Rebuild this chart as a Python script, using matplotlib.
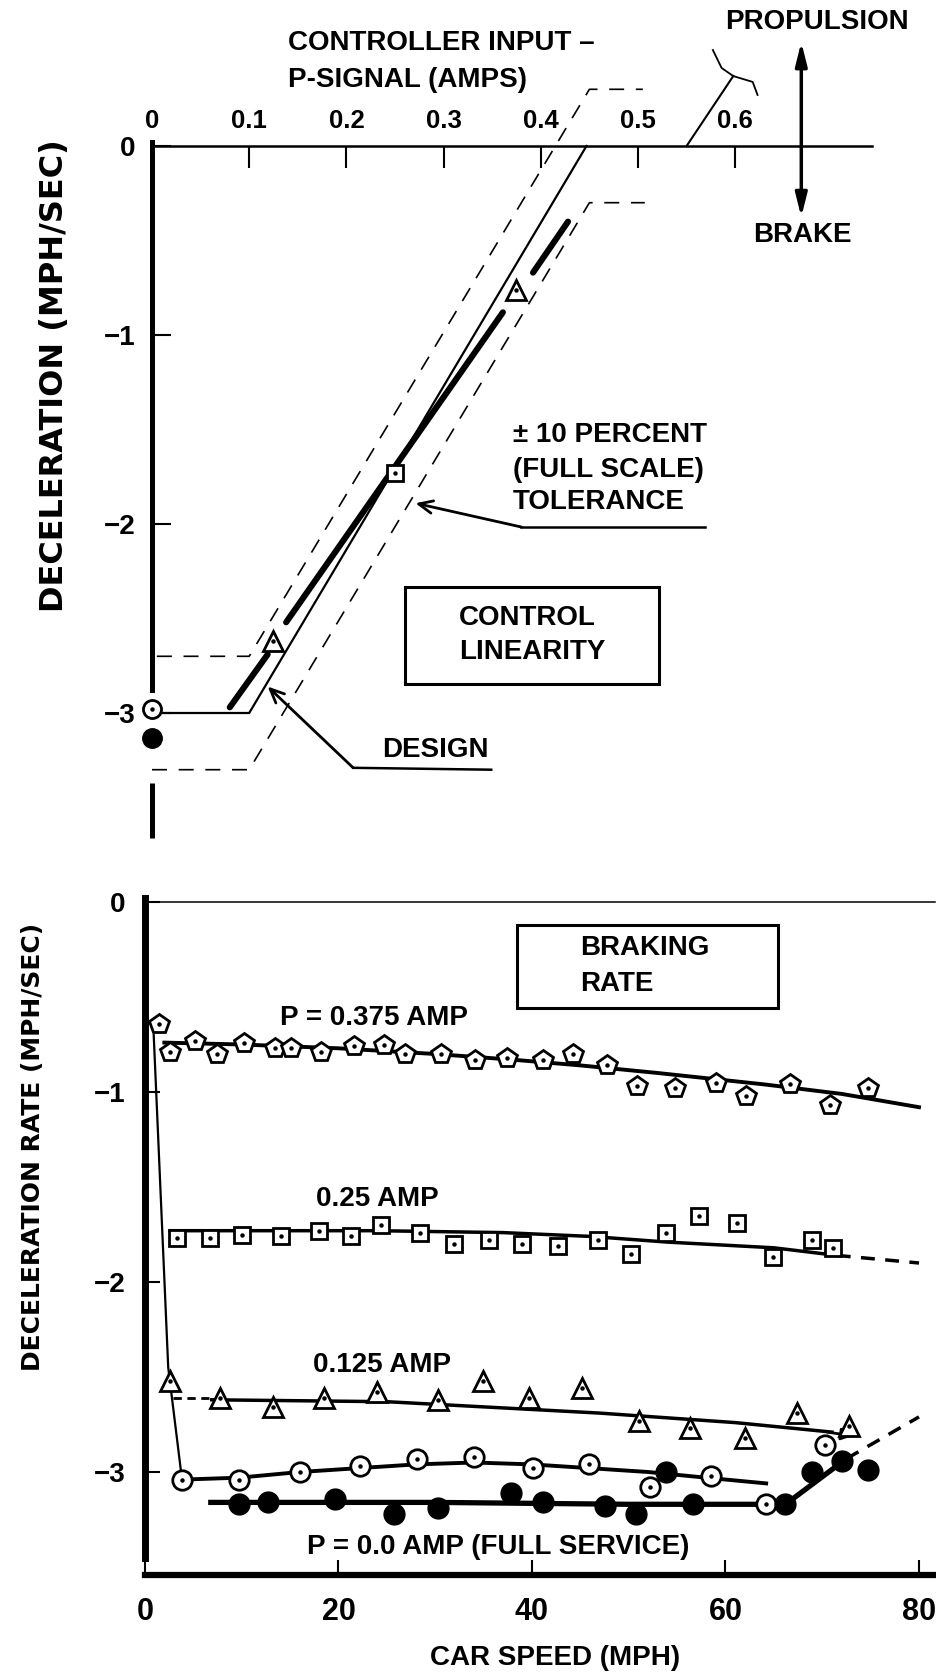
import matplotlib
matplotlib.use("Agg")
import matplotlib.pyplot as plt
from matplotlib.patches import Rectangle

plt.rcParams["font.family"] = ["Liberation Sans", "DejaVu Sans"]
plt.rcParams["font.weight"] = "bold"

W, H = 936, 1676

# ---- control linearity (top) ----
amp_ticks = [0, 0.1, 0.2, 0.3, 0.4, 0.5, 0.6]
amp_labels = ["0", "0.1", "0.2", "0.3", "0.4", "0.5", "0.6"]
dec_ticks = [0, -1, -2, -3]
dec_labels = ["0", "\u22121", "\u22122", "\u22123"]

design_x = [0.0, 0.10, 0.447]
design_y = [-3.0, -3.0, 0.0]
tol_hi_x = [0.005, 0.10, 0.45, 0.505]
tol_hi_y = [-2.7, -2.7, 0.3, 0.3]
tol_lo_x = [0.0, 0.10, 0.45, 0.507]
tol_lo_y = [-3.3, -3.3, -0.3, -0.3]

meas_x = [[0.080, 0.119], [0.138, 0.361], [0.392, 0.428]]
meas_y = [[-2.97, -2.69], [-2.52, -0.88], [-0.67, -0.40]]

lin_tri_x = [0.125, 0.375]
lin_tri_y = [-2.62, -0.76]
lin_sq_x = [0.25]
lin_sq_y = [-1.73]
lin_oc_x = [0.0]
lin_oc_y = [-2.98]
lin_fc_x = [0.0]
lin_fc_y = [-3.13]

prop_x = [0.55, 0.598]
prop_y = [0.0, 0.37]
bracket_x = [0.577, 0.586, 0.598, 0.618, 0.623]
bracket_y = [0.508, 0.413, 0.370, 0.339, 0.270]

# ---- braking rate (bottom) ----
mph_ticks = [0, 20, 40, 60, 80]
rate_ticks = [0, -1, -2, -3]

pent_mph = [1.4, 2.6, 5.2, 7.4, 10.2, 13.4, 15.1, 18.2, 21.6, 24.7, 26.9, 30.6,
            34.1, 37.4, 41.1, 44.2, 47.8, 50.9, 54.8, 59.0, 62.1, 66.7, 70.8, 74.7]
pent_dec = [-0.64, -0.79, -0.73, -0.80, -0.74, -0.77, -0.77, -0.79, -0.76, -0.75, -0.80, -0.80,
            -0.83, -0.82, -0.83, -0.80, -0.86, -0.97, -0.98, -0.95, -1.02, -0.96, -1.07, -0.98]
pent_fit_mph = [2, 10, 20, 30, 38, 45, 53, 64, 72, 80]
pent_fit_dec = [-0.74, -0.75, -0.77, -0.80, -0.83, -0.86, -0.90, -0.96, -1.01, -1.08]

onset_mph = [0.9, 2.4, 3.8]
onset_dec = [-0.70, -2.45, -3.03]

sq_mph = [3.3, 6.7, 10.0, 14.1, 18.0, 21.3, 24.4, 28.4, 31.9, 35.6, 39.0, 42.7,
          46.8, 50.2, 53.9, 57.3, 61.2, 64.9, 68.9, 71.1]
sq_dec = [-1.77, -1.77, -1.75, -1.76, -1.73, -1.76, -1.70, -1.74, -1.80, -1.78, -1.80, -1.81,
          -1.78, -1.85, -1.74, -1.65, -1.69, -1.87, -1.78, -1.82]
sq_fit_mph = [2.6, 12, 24, 37, 46, 54, 65, 71.5]
sq_fit_dec = [-1.73, -1.73, -1.73, -1.74, -1.76, -1.79, -1.82, -1.86]
sq_ext_mph = [71.5, 80]
sq_ext_dec = [-1.86, -1.90]

tri_mph = [2.6, 7.8, 13.2, 18.5, 24.0, 30.3, 34.9, 39.7, 45.2, 51.1, 56.3, 62.0, 67.4, 72.8]
tri_dec = [-2.52, -2.61, -2.66, -2.61, -2.58, -2.62, -2.52, -2.61, -2.56, -2.73, -2.77, -2.82, -2.69, -2.76]
tri_fit_mph = [6.9, 25, 47, 61, 71.0]
tri_fit_dec = [-2.62, -2.63, -2.69, -2.74, -2.79]
tri_lead_mph = [2.9, 6.6]
tri_lead_dec = [-2.61, -2.61]

oc_mph = [3.8, 9.7, 16.0, 22.2, 28.1, 34.0, 40.1, 45.9, 52.2, 58.5, 64.2, 70.3]
oc_dec = [-3.04, -3.04, -3.00, -2.97, -2.93, -2.92, -2.98, -2.96, -3.08, -3.02, -3.17, -2.86]
oc_fit_mph = [3.8, 9.7, 16, 22, 28, 34, 40, 46, 52, 58, 64.2]
oc_fit_dec = [-3.04, -3.03, -3.00, -2.98, -2.96, -2.95, -2.96, -2.98, -3.00, -3.03, -3.06]

fc_mph = [9.7, 12.7, 19.6, 25.7, 30.3, 37.8, 41.1, 47.5, 50.8, 53.8, 56.6, 66.2, 68.9, 72.0, 74.7]
fc_dec = [-3.17, -3.16, -3.14, -3.22, -3.19, -3.11, -3.16, -3.18, -3.22, -3.00, -3.17, -3.17, -3.00, -2.94, -2.99]
fc_fit_mph = [6.8, 30, 50, 66.2, 72.5]
fc_fit_dec = [-3.16, -3.16, -3.17, -3.17, -2.93]
fc_ext_mph = [72.5, 80]
fc_ext_dec = [-2.93, -2.71]


def axes_at(fig, top_px, bottom_px):
    return fig.add_axes([0, 1 - bottom_px / H, 1, (bottom_px - top_px) / H])


def open_marks(ax, x, y, marker, size):
    ax.plot(x, y, linestyle="none", marker=marker, markersize=size, markerfacecolor="white",
            markeredgecolor="black", markeredgewidth=2.0, zorder=4)
    ax.plot(x, y, linestyle="none", marker="o", markersize=2.2, color="black", zorder=5)


def filled_marks(ax, x, y, size):
    ax.plot(x, y, linestyle="none", marker="o", markersize=size, color="black", zorder=4)


def draw_linearity(fig):
    ax = axes_at(fig, 0, 860)
    ax.set_xlim(-152 / 972, 784 / 972)
    ax.set_ylim(-(860 - 146) / 189, 146 / 189)
    for s in ["bottom", "right"]:
        ax.spines[s].set_visible(False)
    ax.spines["top"].set_position(("data", 0))
    ax.spines["top"].set_bounds(0, 0.741)
    ax.spines["top"].set_linewidth(1.8)
    ax.spines["left"].set_position(("data", 0))
    ax.spines["left"].set_bounds(-2.88, 0.02)
    ax.spines["left"].set_linewidth(3.6)
    ax.xaxis.tick_top()
    ax.set_xticks(amp_ticks, amp_labels)
    ax.set_yticks(dec_ticks, dec_labels)
    ax.tick_params(axis="x", direction="in", length=16, width=1.5, pad=9, labelsize=18.5)
    ax.tick_params(axis="y", direction="in", length=14, width=1.5, pad=12, labelsize=20)

    ax.plot([0, 0], [-3.37, -3.66], color="black", lw=3.6, solid_capstyle="butt")

    ax.plot(design_x, design_y, color="black", lw=1.6)
    dash = (0, (9, 7))
    ax.plot(tol_hi_x, tol_hi_y, color="black", lw=1.2, linestyle=dash)
    ax.plot(tol_lo_x, tol_lo_y, color="black", lw=1.2, linestyle=dash)
    for xs, ys in zip(meas_x, meas_y):
        ax.plot(xs, ys, color="black", lw=4.4, solid_capstyle="round")

    open_marks(ax, lin_tri_x, lin_tri_y, "^", 14)
    open_marks(ax, lin_sq_x, lin_sq_y, "s", 11)
    open_marks(ax, lin_oc_x, lin_oc_y, "o", 13)
    filled_marks(ax, lin_fc_x, lin_fc_y, 14)

    ax.plot(prop_x, prop_y, color="black", lw=1.5)
    ax.plot(bracket_x, bracket_y, color="black", lw=1.3)
    ax.annotate("", xy=(0.668, 0.55), xytext=(0.668, -0.376),
                arrowprops=dict(arrowstyle="<|-|>,head_length=1.4,head_width=0.35",
                                color="black", lw=2.5, shrinkA=0, shrinkB=0))

    ax.add_patch(Rectangle((0.260, -2.847), 0.262, 0.514, fill=False, lw=2.2, edgecolor="black"))

    fs = 20
    ax.text(0.140, 0.545, "CONTROLLER INPUT \u2013", fontsize=fs, va="center")
    ax.text(0.140, 0.349, "P-SIGNAL (AMPS)", fontsize=fs, va="center")
    ax.text(0.590, 0.656, "PROPULSION", fontsize=fs, va="center")
    ax.text(0.618, -0.471, "BRAKE", fontsize=fs, va="center")
    ax.text(0.371, -1.529, "\u00b1 10 PERCENT", fontsize=fs, va="center")
    ax.text(0.371, -1.714, "(FULL SCALE)", fontsize=fs, va="center")
    ax.text(0.371, -1.884, "TOLERANCE", fontsize=fs, va="center")
    ax.text(0.316, -2.497, "CONTROL", fontsize=fs, va="center")
    ax.text(0.316, -2.677, "LINEARITY", fontsize=fs, va="center")
    ax.text(0.237, -3.196, "DESIGN", fontsize=fs, va="center")

    # leader lines
    arrow = dict(arrowstyle="->,head_length=1.0,head_width=0.45",
                 color="black", lw=2.0, shrinkA=0, shrinkB=0)
    ax.plot([0.380, 0.569], [-2.016, -2.016], color="black", lw=1.8)
    ax.annotate("", xy=(0.271, -1.89), xytext=(0.380, -2.016), arrowprops=arrow)
    ax.plot([0.207, 0.349], [-3.29, -3.30], color="black", lw=1.8)
    ax.annotate("", xy=(0.119, -2.86), xytext=(0.207, -3.29), arrowprops=arrow)


def draw_braking(fig):
    ax = axes_at(fig, 860, 1676)
    ax.set_xlim(-145 / 9.675, 791 / 9.675)
    ax.set_ylim(-(1676 - 902) / 190, (902 - 860) / 190)
    ax.spines["right"].set_visible(False)
    ax.spines["top"].set_position(("data", 0))
    ax.spines["top"].set_bounds(0, 81.7)
    ax.spines["top"].set_linewidth(1.1)
    ax.spines["left"].set_position(("data", 0))
    ax.spines["left"].set_bounds(-3.45, 0.02)
    ax.spines["left"].set_linewidth(5.0)
    ax.spines["bottom"].set_position(("data", -3.542))
    ax.spines["bottom"].set_bounds(0, 81.7)
    ax.spines["bottom"].set_linewidth(4.5)
    ax.xaxis.set_ticks_position("bottom")
    ax.set_xticks(mph_ticks, [str(v) for v in mph_ticks])
    ax.set_yticks(rate_ticks, dec_labels)
    ax.tick_params(axis="x", direction="in", length=11, width=1.5, pad=16, labelsize=22)
    ax.tick_params(axis="y", direction="in", length=11, width=1.5, pad=14, labelsize=20)

    ax.plot(onset_mph, onset_dec, color="black", lw=1.6, zorder=2)

    ax.plot(pent_fit_mph, pent_fit_dec, color="black", lw=2.8, zorder=2)
    open_marks(ax, pent_mph, pent_dec, "p", 14.5)

    ax.plot(sq_fit_mph, sq_fit_dec, color="black", lw=2.5, zorder=2)
    ax.plot(sq_ext_mph, sq_ext_dec, color="black", lw=2.5, linestyle=(0, (4, 3)), zorder=2)
    open_marks(ax, sq_mph, sq_dec, "s", 12)

    ax.plot(tri_lead_mph, tri_lead_dec, color="black", lw=2.0, linestyle=(0, (3, 2)), zorder=2)
    ax.plot(tri_fit_mph, tri_fit_dec, color="black", lw=2.5, zorder=2)
    ax.annotate("", xy=(73.2, -2.81), xytext=(70.5, -2.79),
                arrowprops=dict(arrowstyle="-|>,head_length=0.7,head_width=0.35",
                                color="black", lw=2.0, shrinkA=0, shrinkB=0))
    open_marks(ax, tri_mph, tri_dec, "^", 15)

    ax.plot(oc_fit_mph, oc_fit_dec, color="black", lw=2.8, zorder=2)
    open_marks(ax, oc_mph, oc_dec, "o", 14)

    ax.plot(fc_fit_mph, fc_fit_dec, color="black", lw=3.8, zorder=2)
    ax.plot(fc_ext_mph, fc_ext_dec, color="black", lw=2.5, linestyle=(0, (4, 3)), zorder=2)
    filled_marks(ax, fc_mph, fc_dec, 15)

    ax.add_patch(Rectangle((38.4, -0.558), 27.0, 0.437, fill=False, lw=2.2, edgecolor="black"))

    fs = 20
    ax.text(44.96, -0.242, "BRAKING", fontsize=fs, va="center")
    ax.text(44.96, -0.432, "RATE", fontsize=fs, va="center")
    ax.text(13.95, -0.611, "P = 0.375 AMP", fontsize=fs, va="center")
    ax.text(17.67, -1.563, "0.25 AMP", fontsize=fs, va="center")
    ax.text(17.36, -2.437, "0.125 AMP", fontsize=fs, va="center")
    ax.text(16.74, -3.395, "P = 0.0 AMP (FULL SERVICE)", fontsize=fs, va="center")


def main():
    fig = plt.figure(figsize=(W / 100, H / 100), dpi=100)
    draw_linearity(fig)
    draw_braking(fig)

    fig.text(55 / W, 1 - 376 / H, "DECELERATION (MPH/SEC)", rotation=90, ha="center", va="center",
             fontsize=23, family="DejaVu Sans")
    fig.text(33 / W, 1 - 1147 / H, "DECELERATION RATE (MPH/SEC)", rotation=90, ha="center", va="center",
             fontsize=18, family="DejaVu Sans")
    fig.text(555 / W, 1 - 1658 / H, "CAR SPEED (MPH)", ha="center", va="center", fontsize=20)

    fig.savefig("out.png", dpi=100)


main()
